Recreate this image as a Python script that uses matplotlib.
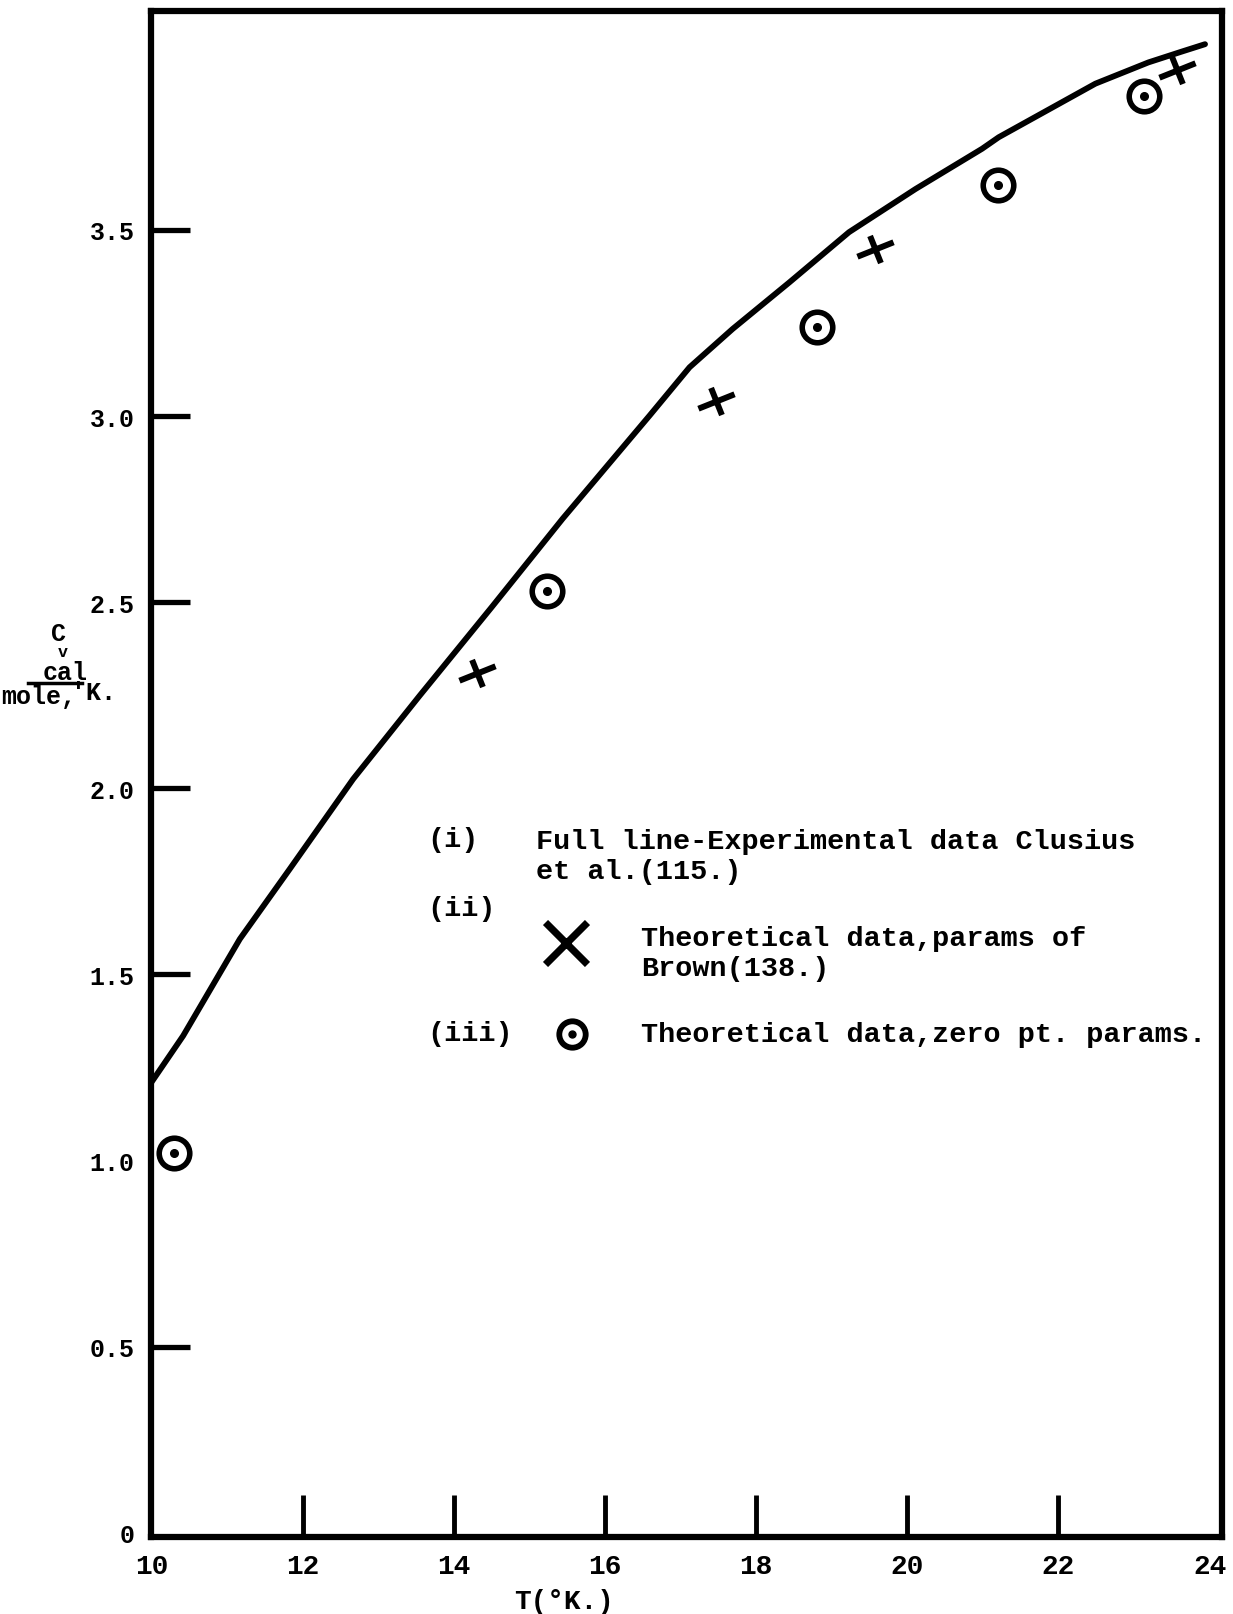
import numpy as np
import matplotlib
matplotlib.use("Agg")
import matplotlib.pyplot as plt
from matplotlib.path import Path
from matplotlib.lines import Line2D

plt.rcParams['font.family'] = ['Liberation Mono', 'DejaVu Sans Mono']
plt.rcParams['font.weight'] = 'bold'

# experimental curve (Clusius et al.)
T_exp = [10.0, 10.42, 11.17, 11.83, 12.67, 13.55, 14.50, 15.44, 16.59, 17.12,
         17.69, 18.44, 19.23, 20.11, 20.99, 21.21, 22.49, 23.19, 23.63, 23.94]
Cv_exp = [1.21, 1.335, 1.595, 1.783, 2.025, 2.249, 2.486, 2.724, 3.001, 3.131,
          3.234, 3.359, 3.494, 3.610, 3.718, 3.749, 3.893, 3.950, 3.979, 3.999]

# theoretical, params of Brown
T_brown = [14.31, 17.47, 19.58, 23.57]
Cv_brown = [2.31, 3.04, 3.45, 3.93]

# theoretical, zero pt. params
T_zero = [10.30, 15.24, 18.81, 21.20, 23.13]
Cv_zero = [1.02, 2.53, 3.24, 3.62, 3.86]

xticks = [10, 12, 14, 16, 18, 20, 22, 24]
yticks = [0, 0.5, 1.0, 1.5, 2.0, 2.5, 3.0, 3.5]
ytick_labels = ['0', '0.5', '1.0', '1.5', '2.0', '2.5', '3.0', '3.5']

# hand drawn tilted cross
cross = Path([(-1, -0.4), (1, 0.4), (-0.3, 0.75), (0.3, -0.75)],
             [Path.MOVETO, Path.LINETO, Path.MOVETO, Path.LINETO])

fig = plt.figure(figsize=(12.33, 16.15), dpi=100)
ax = fig.add_axes([0.1228, 0.0478, 0.868, 0.9445])

ax.plot(T_exp, Cv_exp, color='black', lw=4.2, solid_capstyle='round', solid_joinstyle='round')
ax.plot(T_brown, Cv_brown, ls='none', marker=cross, ms=26, mew=4.3, color='black')
ax.plot(T_zero, Cv_zero, ls='none', marker='o', ms=22, mew=4.0, mfc='white', mec='black', clip_on=False)
ax.plot(T_zero, Cv_zero, ls='none', marker='o', ms=5.5, color='black', clip_on=False)

ax.set_xlim(10, 24.16)
ax.set_ylim(-0.011, 4.087)
ax.set_xticks(xticks)
ax.set_xticklabels([str(t) for t in xticks], fontsize=20)
ax.set_yticks(yticks)
ax.set_yticklabels(ytick_labels, fontsize=18)
ax.tick_params(axis='x', direction='in', length=30, width=3.5, pad=12)
ax.tick_params(axis='y', direction='in', length=28, width=3.8, pad=12)
# no marks drawn at 0, 1.0 on the y axis nor at the ends of the x axis
for i in (0, 2):
    ax.yaxis.get_major_ticks()[i].tick1line.set_visible(False)
for i in (0, len(xticks) - 1):
    ax.xaxis.get_major_ticks()[i].tick1line.set_visible(False)
for s in ax.spines.values():
    s.set_linewidth(4.5)

# legend written into the plot
fs = 20.5
ax.text(13.65, 1.865, '(i)', fontsize=fs, va='center')
ax.text(15.09, 1.857, 'Full line-Experimental data Clusius', fontsize=fs, va='center')
ax.text(15.09, 1.779, 'et al.(115.)', fontsize=fs, va='center')
ax.text(13.65, 1.677, '(ii)', fontsize=fs, va='center')
ax.plot([15.48], [1.583], marker='x', ms=30, mew=5.2, color='black')
ax.text(16.48, 1.599, 'Theoretical data,params of', fontsize=fs, va='center')
ax.text(16.48, 1.516, 'Brown(138.)', fontsize=fs, va='center')
ax.text(13.65, 1.342, '(iii)', fontsize=fs, va='center')
ax.plot([15.56], [1.339], marker='o', ms=19, mew=4.2, mfc='white', mec='black')
ax.plot([15.56], [1.339], marker='o', ms=5, color='black')
ax.text(16.48, 1.339, 'Theoretical data,zero pt. params.', fontsize=fs, va='center')

# axis labels
fig.text(0.4577, 0.0083, 'T(°K.)', fontsize=20, ha='center', va='center')
fig.text(0.0476, 0.6075, 'C', fontsize=18, ha='center', va='center')
fig.text(0.0505, 0.5962, 'v', fontsize=12, ha='center', va='center')
fig.text(0.0526, 0.5830, 'cal', fontsize=18, ha='center', va='center')
fig.add_artist(Line2D([0.0225, 0.0668], [0.5765, 0.5765], color='black', lw=2.5))
fig.text(0.0317, 0.5685, 'mole,', fontsize=18, ha='center', va='center')
fig.text(0.0760, 0.5710, "'K.", fontsize=18, ha='center', va='center')

fig.savefig('out.png', dpi=100)
